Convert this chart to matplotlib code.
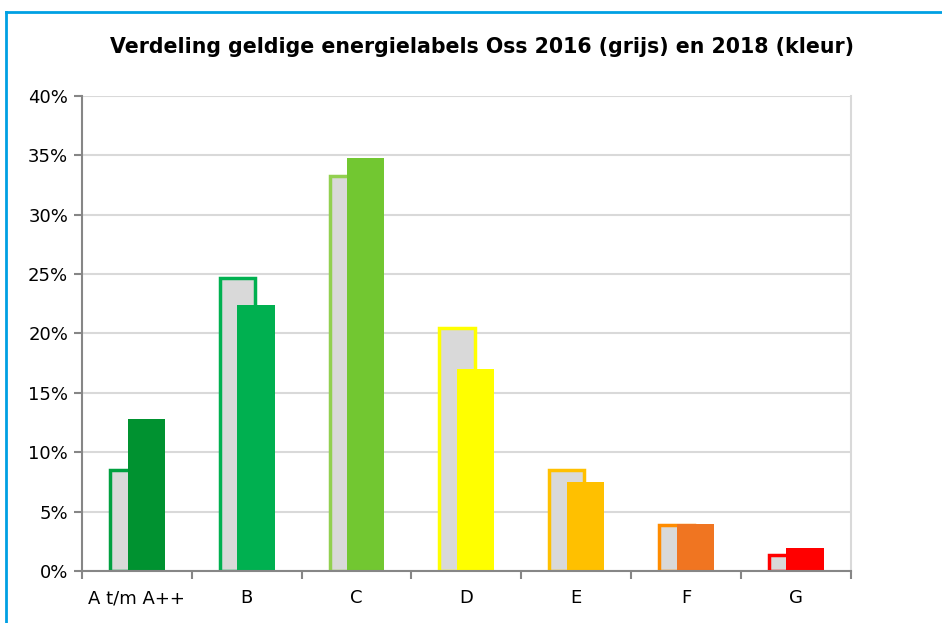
import matplotlib
matplotlib.use("Agg")
import matplotlib.pyplot as plt
import numpy as np
from matplotlib.lines import Line2D
from matplotlib.ticker import FuncFormatter, FixedLocator

categories = ["A t/m A++", "B", "C", "D", "E", "F", "G"]
values_2016 = [8.5, 24.7, 33.3, 20.5, 8.5, 3.9, 1.35]
values_2018 = [12.8, 22.4, 34.8, 17.0, 7.5, 3.95, 1.9]
colors_2018 = ["#009230", "#00B050", "#72C731", "#FFFF00", "#FFC000", "#F07521", "#FF0000"]
edges_2016 = ["#00A040", "#00B050", "#92D050", "#FFFF00", "#FFC000", "#FF8C00", "#FF0000"]
title = "Verdeling geldige energielabels Oss 2016 (grijs) en 2018 (kleur)"

plt.rcParams['font.family'] = ['DejaVu Sans']
fig = plt.figure(figsize=(9.42, 6.23), dpi=100)
ax = fig.add_axes([0.087, 0.0835, 0.816, 0.7625])

x = np.arange(len(categories))
w = 0.32
off = 0.085
ax.bar(x - off, values_2016, width=w, color="#D9D9D9", edgecolor=edges_2016, linewidth=2.5, zorder=3)
ax.bar(x + off, values_2018, width=w + 0.02, color=colors_2018, linewidth=0, zorder=4)

ax.set_xlim(-0.5, len(categories) - 0.5)
ax.set_ylim(0, 40)
ax.set_yticks(np.arange(0, 41, 5))
ax.yaxis.set_major_formatter(FuncFormatter(lambda v, p: f"{int(v)}%"))
ax.grid(axis="y", color="#D9D9D9", linewidth=1.5, zorder=0)
ax.set_xticks(x)
ax.set_xticklabels(categories, fontsize=13)
ax.tick_params(axis="x", length=0, pad=13)
ax.xaxis.set_minor_locator(FixedLocator(np.arange(-0.5, len(categories), 1.0)))
ax.tick_params(axis="x", which="minor", length=6, color="#868686", width=1.5)
ax.tick_params(axis="y", labelsize=13, length=6, color="#868686", width=1.5, direction="out", pad=4)
for s in ["left", "bottom"]:
    ax.spines[s].set_color("#868686")
    ax.spines[s].set_linewidth(1.5)
ax.spines["right"].set_color("#D9D9D9")
ax.spines["right"].set_linewidth(1.5)
ax.spines["top"].set_visible(False)
ax.spines["bottom"].set_zorder(5)

fig.text(0.512, 0.924, title, ha="center", va="center", fontsize=14.8, fontweight="bold")

# frame lines
fig.add_artist(Line2D([6/942, 1.0], [1 - 12/623, 1 - 12/623], color="#00A0E3", linewidth=2))
fig.add_artist(Line2D([6/942, 6/942], [0, 1 - 12/623], color="#00A0E3", linewidth=2))

fig.savefig("out.png", dpi=100)
